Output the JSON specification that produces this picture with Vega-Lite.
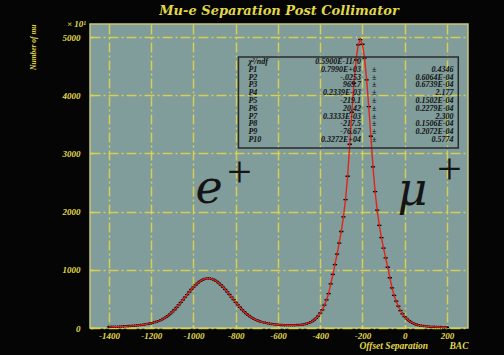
{
  "$schema": "https://vega.github.io/schema/vega-lite/v6.json",
  "width": 378,
  "height": 304,
  "autosize": {"type": "none"},
  "padding": {"left": 90, "top": 24, "right": 36, "bottom": 27},
  "background": "#050505",
  "title": {"text": "Mu-e Separation Post Collimator", "color": "#e0d84a", "font": "DejaVu Serif", "fontSize": 13, "fontWeight": "bold", "fontStyle": "italic", "anchor": "middle", "offset": 2},
  "config": {"view": {"fill": "#809c9b", "stroke": "#c9c77a", "strokeWidth": 1.5}},
  "datasets": {
    "counts": [
      {"x": -1400, "y": 19}, {"x": -1390, "y": 20}, {"x": -1380, "y": 21}, {"x": -1370, "y": 22}, {"x": -1360, "y": 23},
      {"x": -1350, "y": 25}, {"x": -1340, "y": 26}, {"x": -1330, "y": 28}, {"x": -1320, "y": 30}, {"x": -1310, "y": 32},
      {"x": -1300, "y": 34}, {"x": -1290, "y": 37}, {"x": -1280, "y": 40}, {"x": -1270, "y": 43}, {"x": -1260, "y": 47},
      {"x": -1250, "y": 51}, {"x": -1240, "y": 56}, {"x": -1230, "y": 61}, {"x": -1220, "y": 68}, {"x": -1210, "y": 75},
      {"x": -1200, "y": 83}, {"x": -1190, "y": 92}, {"x": -1180, "y": 102}, {"x": -1170, "y": 114}, {"x": -1160, "y": 128},
      {"x": -1150, "y": 145}, {"x": -1140, "y": 165}, {"x": -1130, "y": 188}, {"x": -1120, "y": 214}, {"x": -1110, "y": 244},
      {"x": -1100, "y": 277}, {"x": -1090, "y": 314}, {"x": -1080, "y": 354}, {"x": -1070, "y": 396}, {"x": -1060, "y": 440},
      {"x": -1050, "y": 485}, {"x": -1040, "y": 530}, {"x": -1030, "y": 575}, {"x": -1020, "y": 619}, {"x": -1010, "y": 662},
      {"x": -1000, "y": 702}, {"x": -990, "y": 739}, {"x": -980, "y": 772}, {"x": -970, "y": 800}, {"x": -960, "y": 823},
      {"x": -950, "y": 840}, {"x": -940, "y": 850}, {"x": -930, "y": 853}, {"x": -920, "y": 850}, {"x": -910, "y": 840},
      {"x": -900, "y": 823}, {"x": -890, "y": 800}, {"x": -880, "y": 772}, {"x": -870, "y": 739}, {"x": -860, "y": 703},
      {"x": -850, "y": 663}, {"x": -840, "y": 621}, {"x": -830, "y": 577}, {"x": -820, "y": 532}, {"x": -810, "y": 487},
      {"x": -800, "y": 442}, {"x": -790, "y": 399}, {"x": -780, "y": 357}, {"x": -770, "y": 317}, {"x": -760, "y": 280},
      {"x": -750, "y": 247}, {"x": -740, "y": 217}, {"x": -730, "y": 192}, {"x": -720, "y": 169}, {"x": -710, "y": 149},
      {"x": -700, "y": 133}, {"x": -690, "y": 119}, {"x": -680, "y": 107}, {"x": -670, "y": 98}, {"x": -660, "y": 89},
      {"x": -650, "y": 81}, {"x": -640, "y": 75}, {"x": -630, "y": 69}, {"x": -620, "y": 64}, {"x": -610, "y": 60},
      {"x": -600, "y": 57}, {"x": -590, "y": 53}, {"x": -580, "y": 51}, {"x": -570, "y": 49}, {"x": -560, "y": 47},
      {"x": -550, "y": 47}, {"x": -540, "y": 47}, {"x": -530, "y": 47}, {"x": -520, "y": 48}, {"x": -510, "y": 50},
      {"x": -500, "y": 52}, {"x": -490, "y": 55}, {"x": -480, "y": 60}, {"x": -470, "y": 67}, {"x": -460, "y": 78},
      {"x": -450, "y": 92}, {"x": -440, "y": 111}, {"x": -430, "y": 135}, {"x": -420, "y": 165}, {"x": -410, "y": 204},
      {"x": -400, "y": 254}, {"x": -390, "y": 313}, {"x": -380, "y": 393}, {"x": -370, "y": 482}, {"x": -360, "y": 592},
      {"x": -350, "y": 760}, {"x": -340, "y": 920}, {"x": -330, "y": 1090}, {"x": -320, "y": 1270}, {"x": -310, "y": 1460},
      {"x": -300, "y": 1659}, {"x": -290, "y": 1909}, {"x": -280, "y": 2208}, {"x": -270, "y": 2608}, {"x": -260, "y": 3158},
      {"x": -250, "y": 3708}, {"x": -240, "y": 4207}, {"x": -230, "y": 4607}, {"x": -220, "y": 4867}, {"x": -210, "y": 4957},
      {"x": -200, "y": 4877}, {"x": -190, "y": 4637}, {"x": -180, "y": 4266}, {"x": -170, "y": 3806}, {"x": -160, "y": 3296},
      {"x": -150, "y": 2771}, {"x": -140, "y": 2345}, {"x": -130, "y": 2025}, {"x": -120, "y": 1765}, {"x": -110, "y": 1555},
      {"x": -100, "y": 1374}, {"x": -90, "y": 1204}, {"x": -80, "y": 1044}, {"x": -70, "y": 864}, {"x": -60, "y": 689},
      {"x": -50, "y": 562}, {"x": -40, "y": 461}, {"x": -30, "y": 375}, {"x": -20, "y": 300}, {"x": -10, "y": 243},
      {"x": 0, "y": 195}, {"x": 10, "y": 157}, {"x": 20, "y": 127}, {"x": 30, "y": 102}, {"x": 40, "y": 82},
      {"x": 50, "y": 66}, {"x": 60, "y": 54}, {"x": 70, "y": 45}, {"x": 80, "y": 38}, {"x": 90, "y": 33},
      {"x": 100, "y": 29}, {"x": 110, "y": 26}, {"x": 120, "y": 23}, {"x": 130, "y": 21}, {"x": 140, "y": 19},
      {"x": 150, "y": 17}, {"x": 160, "y": 16}, {"x": 170, "y": 15}, {"x": 180, "y": 14}, {"x": 190, "y": 13},
      {"x": 200, "y": 13}
    ],
    "stats": [
      {"name": "χ²/ndf", "val": "0.5900E-11/   0", "pm": "", "err": ""},
      {"name": "P1", "val": "0.7990E+03", "pm": "±", "err": "0.4346"},
      {"name": "P2", "val": "-.0253", "pm": "±", "err": "0.6064E-04"},
      {"name": "P3", "val": "969.7", "pm": "±", "err": "0.6739E-04"},
      {"name": "P4", "val": "0.2339E-03", "pm": "±", "err": "2.177"},
      {"name": "P5", "val": "-219.1", "pm": "±", "err": "0.1502E-04"},
      {"name": "P6", "val": "20.42", "pm": "±", "err": "0.2279E-04"},
      {"name": "P7", "val": "0.3333E-03", "pm": "±", "err": "2.300"},
      {"name": "P8", "val": "-217.5", "pm": "±", "err": "0.1506E-04"},
      {"name": "P9", "val": "-76.67", "pm": "±", "err": "0.2072E-04"},
      {"name": "P10", "val": "0.3272E+04", "pm": "±", "err": "0.5774"}
    ]
  },
  "layer": [
    {
      "layer": [
        {
          "data": {"name": "counts"},
          "mark": {"type": "point", "shape": "M-1,0L1,0M0,-0.6L0,0.6", "filled": false, "stroke": "#000000", "strokeWidth": 1.3, "size": 18, "opacity": 1},
          "encoding": {
            "x": {
              "field": "x", "type": "quantitative",
              "scale": {"domain": [-1490, 300], "nice": false, "zero": false},
              "axis": {
                "orient": "bottom",
                "values": [-1400, -1200, -1000, -800, -600, -400, -200, 0, 200],
                "labelExpr": "'' + datum.value",
                "labelColor": "#e0d84a", "labelFont": "Liberation Serif", "labelFontSize": 9, "labelFontWeight": "bold", "labelFontStyle": "italic",
                "labelPadding": 6, "labelOverlap": false, "labelFlush": false,
                "tickSize": -3, "tickColor": "#e0d84a", "tickWidth": 1.5,
                "domain": false,
                "grid": true, "gridColor": "#dcd64e", "gridWidth": 1.5, "gridDash": [10, 3, 2, 3], "gridOpacity": 0.9,
                "title": "Offset Separation\u00a0\u00a0\u00a0\u00a0\u00a0\u00a0\u00a0\u00a0\u00a0BAC",
                "titleColor": "#e0d84a", "titleFont": "Liberation Serif", "titleFontSize": 9.5, "titleFontWeight": "bold", "titleFontStyle": "italic",
                "titleAnchor": "end", "titlePadding": 0
              }
            },
            "y": {
              "field": "y", "type": "quantitative",
              "scale": {"domain": [0, 5225], "nice": false, "zero": true},
              "axis": {
                "values": [0, 250, 500, 750, 1000, 1250, 1500, 1750, 2000, 2250, 2500, 2750, 3000, 3250, 3500, 3750, 4000, 4250, 4500, 4750, 5000],
                "labelExpr": "datum.value % 1000 === 0 ? '' + datum.value : ''",
                "labelColor": "#e0d84a", "labelFont": "Liberation Serif", "labelFontSize": 9, "labelFontWeight": "bold", "labelFontStyle": "italic",
                "labelPadding": 13, "labelOverlap": false,
                "tickSize": -3, "tickColor": "#e0d84a", "tickWidth": 1.5,
                "domain": false,
                "grid": true, "gridColor": "#dcd64e", "gridWidth": 1.5, "gridDash": [10, 3, 2, 3],
                "gridOpacity": {"condition": {"test": "datum.value % 1000 === 0", "value": 0.9}, "value": 0},
                "title": "Number of mu",
                "titleColor": "#e0d84a", "titleFont": "Liberation Serif", "titleFontSize": 7.5, "titleFontWeight": "bold", "titleFontStyle": "italic",
                "titleAngle": -90, "titleX": -57, "titleY": 0, "titleAlign": "right", "titleBaseline": "middle"
              }
            }
          }
        },
        {
          "data": {"name": "counts"},
          "mark": {"type": "line", "color": "#e3231b", "strokeWidth": 1.4},
          "encoding": {
            "x": {"field": "x", "type": "quantitative"},
            "y": {"field": "y", "type": "quantitative"}
          }
        },
        {
          "data": {"values": [{"label": "× 10¹"}]},
          "mark": {"type": "text", "font": "Liberation Serif", "fontStyle": "italic", "fontWeight": "bold", "fontSize": 9, "align": "right", "baseline": "middle", "color": "#e0d84a", "dx": -4},
          "encoding": {"x": {"datum": -1490}, "y": {"datum": 5225}, "text": {"field": "label"}}
        },
        {
          "data": {"values": [{"label": "e"}]},
          "mark": {"type": "text", "font": "DejaVu Serif", "fontStyle": "italic", "fontSize": 46, "align": "left", "baseline": "alphabetic", "color": "#141414"},
          "encoding": {"x": {"datum": -991}, "y": {"datum": 2148}, "text": {"field": "label"}}
        },
        {
          "data": {"values": [{"label": "+"}]},
          "mark": {"type": "text", "font": "Liberation Serif", "fontSize": 44, "align": "center", "baseline": "middle", "color": "#141414"},
          "encoding": {"x": {"datum": -782}, "y": {"datum": 2650}, "text": {"field": "label"}}
        },
        {
          "data": {"values": [{"label": "μ"}]},
          "mark": {"type": "text", "font": "DejaVu Serif", "fontStyle": "italic", "fontSize": 46, "align": "left", "baseline": "alphabetic", "color": "#141414"},
          "encoding": {"x": {"datum": -34}, "y": {"datum": 2113}, "text": {"field": "label"}}
        },
        {
          "data": {"values": [{"label": "+"}]},
          "mark": {"type": "text", "font": "Liberation Serif", "fontSize": 44, "align": "center", "baseline": "middle", "color": "#141414"},
          "encoding": {"x": {"datum": 212}, "y": {"datum": 2690}, "text": {"field": "label"}}
        },
        {
          "data": {"values": [{"label": "fit"}]},
          "mark": {"type": "rect", "fill": "transparent", "stroke": "#2a2a2a", "strokeWidth": 1.5},
          "encoding": {"x": {"datum": -787}, "x2": {"datum": 254}, "y": {"datum": 4656}, "y2": {"datum": 3093}}
        }
      ]
    },
    {
      "data": {"name": "stats"},
      "encoding": {
        "y": {"field": "name", "type": "nominal", "sort": null, "scale": {"type": "point", "range": [38, 116], "padding": 0}, "axis": null}
      },
      "layer": [
        {
          "mark": {"type": "text", "font": "Liberation Serif", "fontStyle": "italic", "fontWeight": "bold", "fontSize": 8, "align": "left", "baseline": "middle", "color": "#111111"},
          "encoding": {"x": {"datum": -740, "scale": {"domain": [-1490, 300], "nice": false, "zero": false}, "axis": null}, "text": {"field": "name"}}
        },
        {
          "mark": {"type": "text", "font": "Liberation Serif", "fontStyle": "italic", "fontWeight": "bold", "fontSize": 8, "align": "right", "baseline": "middle", "color": "#111111"},
          "encoding": {"x": {"datum": -207}, "text": {"field": "val"}}
        },
        {
          "mark": {"type": "text", "font": "Liberation Serif", "fontWeight": "bold", "fontSize": 8, "align": "center", "baseline": "middle", "color": "#111111"},
          "encoding": {"x": {"datum": -144}, "text": {"field": "pm"}}
        },
        {
          "mark": {"type": "text", "font": "Liberation Serif", "fontStyle": "italic", "fontWeight": "bold", "fontSize": 8, "align": "right", "baseline": "middle", "color": "#111111"},
          "encoding": {"x": {"datum": 231}, "text": {"field": "err"}}
        }
      ]
    }
  ],
  "resolve": {"scale": {"y": "independent", "x": "independent"}}
}
